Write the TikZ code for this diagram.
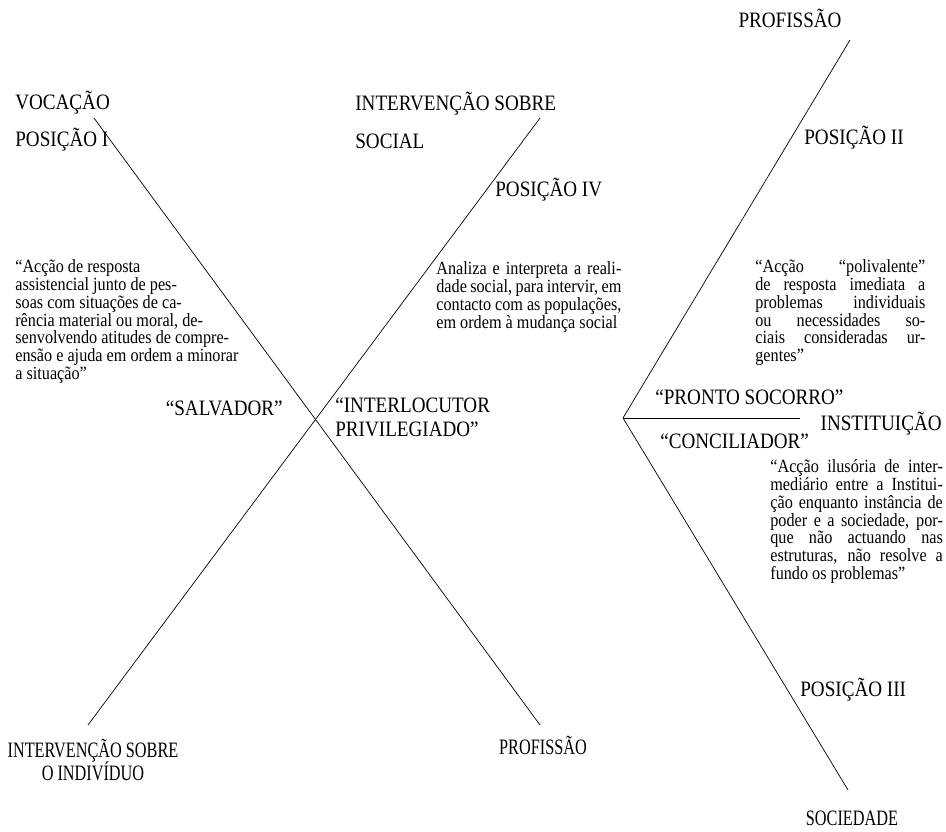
\documentclass[tikz,border=0pt]{standalone}
\usepackage{fontspec}
\setmainfont{Liberation Serif}[FakeStretch=0.87]
\newfontfamily\narrowfont{Liberation Serif}[FakeStretch=0.74]

\begin{document}
\begin{tikzpicture}[
    lbl/.style={inner sep=0pt, font=\fontsize{12.5}{13.5}\selectfont},
    lbln/.style={inner sep=0pt, font=\narrowfont\fontsize{12.5}{13.5}\selectfont},
    txt/.style={inner sep=0pt, anchor=north west, font=\fontsize{10.6}{10.2}\selectfont},
    just/.style={txt, text width=#1, align=justify}
  ]
\useasboundingbox (0,0) rectangle (18.92,16.64);
% the cross
\coordinate (vocTop) at (1.88,14.28);
\coordinate (profBot) at (10.80,2.14);
\coordinate (socTop) at (10.80,14.28);
\coordinate (indBot) at (1.76,2.14);
\draw (vocTop) -- (profBot);
\draw (socTop) -- (indBot);
% the angle on the right
\coordinate (tip) at (12.46,8.28);
\coordinate (profTop) at (17.00,15.84);
\coordinate (socBot) at (16.96,0.84);
\coordinate (instEnd) at (16.00,8.28);
\draw (profTop) -- (tip) -- (socBot);
\draw (tip) -- (instEnd);

% labels at the line ends
\node[lbl,anchor=west] (voc) at (0.30,14.58) {VOCAÇÃO};
\node[lbl,anchor=west] (pos1) at (0.30,13.84) {POSIÇÃO I};
\node[lbl,anchor=north west,align=left] (intSoc) at (7.10,14.80) {INTERVENÇÃO SOBRE\\[8pt]SOCIAL};
\node[lbl,anchor=west] (pos4) at (9.90,12.84) {POSIÇÃO IV};
\node[lbln,align=center] (intInd) at (1.86,1.44) {INTERVENÇÃO SOBRE\\O INDIVÍDUO};
\node[lbln] (prof1) at (10.86,1.74) {PROFISSÃO};
\node[lbl] (prof2) at (15.80,16.28) {PROFISSÃO};
\node[lbl,anchor=west] (pos2) at (16.08,13.88) {POSIÇÃO II};
\node[lbl,anchor=east] (inst) at (18.84,8.16) {INSTITUIÇÃO};
\node[lbl,anchor=west] (pos3) at (16.00,2.84) {POSIÇÃO III};
\node[lbln] (soc) at (17.04,0.28) {SOCIEDADE};

% names of the roles
\node[lbl,anchor=east] (salv) at (5.66,8.48) {“SALVADOR”};
\node[lbl,anchor=west,align=left] (inter) at (6.70,8.30) {“INTERLOCUTOR\\PRIVILEGIADO”};
\node[lbl,anchor=west] (pronto) at (13.10,8.70) {“PRONTO SOCORRO”};
\node[lbl,anchor=west] (conc) at (13.20,7.82) {“CONCILIADOR”};

% descriptions
\node[txt,align=left] (descI) at (0.30,11.46) {“Acção de resposta\\
  assistencial junto de pes-\\
  soas com situações de ca-\\
  rência material ou moral, de-\\
  senvolvendo atitudes de compre-\\
  ensão e ajuda em ordem a minorar\\
  a situação”};
\node[just=3.7cm] (descIV) at (8.72,11.42) {\parfillskip=0pt
  Analiza e interpreta a reali-\linebreak
  dade social, para intervir, em\linebreak
  contacto com as populações,\linebreak
  em ordem à mudança social};
\node[just=3.4cm] (descII) at (15.10,11.46) {“Acção “polivalente”\linebreak
  de resposta imediata a\linebreak
  problemas individuais\linebreak
  ou necessidades so-\linebreak
  ciais consideradas ur-\linebreak
  gentes”};
\node[just=3.45cm] (descIII) at (15.40,7.46) {“Acção ilusória de inter-\linebreak
  mediário entre a Institui-\linebreak
  ção enquanto instância de\linebreak
  poder e a sociedade, por-\linebreak
  que não actuando nas\linebreak
  estruturas, não resolve a\linebreak
  fundo os problemas”};
\end{tikzpicture}
\end{document}
